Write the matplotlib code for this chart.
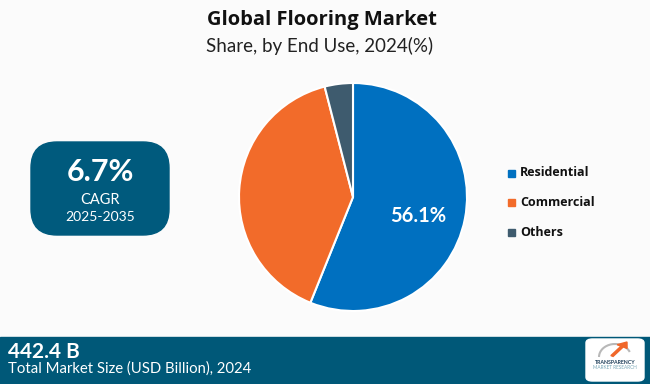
import matplotlib
matplotlib.use("Agg")
import matplotlib.pyplot as plt
from matplotlib.patches import FancyBboxPatch, Rectangle, Arc, FancyArrow

categories = ["Residential", "Commercial", "Others"]
shares = [56.1, 39.9, 4.0]
colors = ["#0070C0", "#F26B2A", "#3E5B6E"]
title = "Global Flooring Market"
subtitle = "Share, by End Use, 2024(%)"
cagr_value = "6.7%"
cagr_label = "CAGR"
cagr_period = "2025-2035"
market_value = "442.4 B"
market_label = "Total Market Size (USD Billion), 2024"

W, H = 650, 384
fig = plt.figure(figsize=(W / 100, H / 100), dpi=100)
fig.patch.set_facecolor("#FBFBFB")

def fx(x):
    return x / W

def fy(y):
    return 1 - y / H

BOLD = ["Lato", "DejaVu Sans"]
REG = ["Lato", "DejaVu Sans"]

# Titles
fig.text(fx(322), fy(20), title, ha="center", va="center", fontsize=14.5,
         fontweight="bold", family=["Open Sans", "DejaVu Sans"], color="#111111")
fig.text(fx(320), fy(46), subtitle, ha="center", va="center", fontsize=13.5,
         family=REG, color="#222222")

# Pie
cx, cy, r = 353, 197, 114
ax = fig.add_axes([fx(cx - r), fy(cy + r), 2 * r / W, 2 * r / H])
wedges, _ = ax.pie(shares, colors=colors, startangle=90, counterclock=False,
                   wedgeprops=dict(edgecolor="white", linewidth=1.5))
ax.set_xlim(-1, 1)
ax.set_ylim(-1, 1)
ax.set_aspect("equal")
ax.axis("off")
ax.text(0.57, -0.17, f"{shares[0]}%", ha="center", va="center", color="white",
        fontsize=14.5, fontweight="bold", family=BOLD)

# Legend
for i, (cat, col) in enumerate(zip(categories, colors)):
    y = 173 + i * 29.5
    fig.patches.append(Rectangle((fx(508), fy(y + 3.5)), 7 / W, 7 / H,
                                 transform=fig.transFigure, color=col))
    fig.text(fx(520), fy(y), cat, ha="left", va="center", fontsize=9,
             fontweight="bold", family=["Open Sans", "DejaVu Sans"], color="#111111")

# CAGR box
fig.patches.append(FancyBboxPatch((fx(31), fy(235)), 138 / W, 93 / H,
                                  boxstyle="round,pad=0,rounding_size=0.04",
                                  transform=fig.transFigure, color="#005A7D",
                                  mutation_aspect=W / H))
fig.text(fx(100), fy(172), cagr_value, ha="center", va="center", fontsize=22,
         fontweight="bold", family=BOLD, color="white")
fig.text(fx(100), fy(200), cagr_label, ha="center", va="center", fontsize=10.5,
         family=REG, color="white")
fig.text(fx(100), fy(217), cagr_period, ha="center", va="center", fontsize=10,
         family=REG, color="white")

# Bottom banner
fig.patches.append(Rectangle((0, 0), 1, (H - 337) / H, transform=fig.transFigure,
                             color="#005878"))
fig.text(fx(8), fy(352), market_value, ha="left", va="center", fontsize=15,
         fontweight="bold", family=BOLD, color="white")
fig.text(fx(8), fy(369), market_label, ha="left", va="center", fontsize=10.7,
         family=REG, color="white")

# Logo box
fig.patches.append(FancyBboxPatch((fx(586), fy(381)), 58 / W, 42 / H,
                                  boxstyle="round,pad=0,rounding_size=0.01",
                                  transform=fig.transFigure, color="white"))
fig.patches.append(Arc((fx(615), fy(357)), 32 / W, 26 / H, theta1=30, theta2=180,
                       transform=fig.transFigure, color="#B8B8B8", lw=1.5))
fig.patches.append(FancyArrow(fx(612), fy(356), 15 / W, 14 / H, width=0.004,
                              head_width=0.018, head_length=0.014,
                              transform=fig.transFigure, color="#F0672A",
                              length_includes_head=True))
fig.text(fx(615), fy(362), "TRANSPARENCY", ha="center", va="center", fontsize=3.8,
         fontweight="bold", family=BOLD, color="#1E3F5A")
fig.text(fx(615), fy(367.5), "MARKET RESEARCH", ha="center", va="center", fontsize=3.4,
         family=REG, color="#7AA8B8")

fig.savefig("out.png", dpi=100, facecolor=fig.get_facecolor())
